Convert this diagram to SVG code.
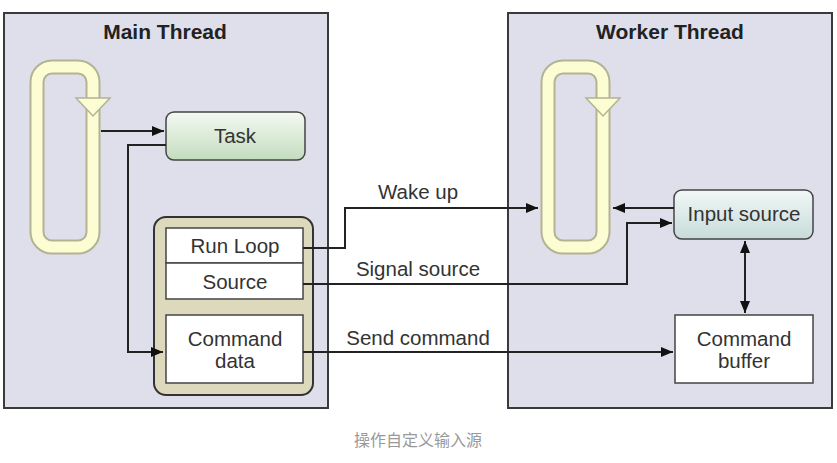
<svg xmlns="http://www.w3.org/2000/svg" width="837" height="463" viewBox="0 0 837 463">
<defs>
<style>
.thread{fill:#dfdfeb;stroke:#3a3a3a;stroke-width:2}
.title{font-family:"Liberation Sans",Arial,sans-serif;font-weight:bold;font-size:21px;fill:#222;text-anchor:middle}
.lbl{font-family:"Liberation Sans",Arial,sans-serif;font-size:20.5px;fill:#333;text-anchor:middle}
.box{fill:#fff;stroke:#444;stroke-width:1.5}
.tubeO{fill:none;stroke:#b3b394;stroke-width:15}
.tubeI{fill:none;stroke:#fdfdd4;stroke-width:11}
.head{fill:#fdfdd4;stroke:#b3b394;stroke-width:1.5}
.conn{fill:none;stroke:#222;stroke-width:2}
.cap{font-family:"Liberation Sans","Noto Sans CJK SC",sans-serif;font-size:16px;fill:#999;text-anchor:middle}
</style>
<linearGradient id="gGreen" x1="0" y1="0" x2="0" y2="1"><stop offset="0" stop-color="#f4f9f1"/><stop offset="1" stop-color="#c4dcbf"/></linearGradient>
<linearGradient id="gBlue" x1="0" y1="0" x2="0" y2="1"><stop offset="0" stop-color="#f2f7f6"/><stop offset="1" stop-color="#c6dcda"/></linearGradient>
<marker id="arr" viewBox="0 0 12 10" refX="12" refY="5" markerWidth="12" markerHeight="10" markerUnits="userSpaceOnUse" orient="auto-start-reverse"><path d="M0,0 L12,5 L0,10 Z" fill="#111"/></marker>
</defs>
<rect width="837" height="463" fill="#fff"/>

<g id="main-thread">
<rect class="thread" x="4" y="13" width="324" height="395"/>
<text class="title" x="165" y="39">Main Thread</text>
</g>
<g id="worker-thread">
<rect class="thread" x="508" y="13" width="324" height="395"/>
<text class="title" x="670" y="39">Worker Thread</text>
</g>

<g id="main-loop">
<rect class="tubeO" x="37" y="67" width="56" height="180" rx="15"/>
<rect class="tubeI" x="37" y="67" width="56" height="180" rx="15"/>
<path class="head" d="M76,98 L110,98 L93,116 Z"/>
</g>
<g id="worker-loop">
<rect class="tubeO" x="548" y="67" width="55" height="180" rx="15"/>
<rect class="tubeI" x="548" y="67" width="55" height="180" rx="15"/>
<path class="head" d="M586,98 L620,98 L603,116 Z"/>
</g>

<g id="task">
<rect x="166" y="112" width="139" height="48" rx="8" fill="url(#gGreen)" stroke="#444" stroke-width="1.5"/>
<text class="lbl" x="235" y="143">Task</text>
</g>

<g id="source-container">
<rect x="154" y="217" width="159" height="178" rx="12" fill="#ddd9bd" stroke="#333" stroke-width="2"/>
</g>
<g id="run-loop">
<rect class="box" x="166" y="228" width="137" height="35"/>
<text class="lbl" x="235" y="253">Run Loop</text>
</g>
<g id="source">
<rect class="box" x="166" y="263" width="137" height="36"/>
<text class="lbl" x="235" y="289">Source</text>
</g>
<g id="command-data">
<rect class="box" x="166" y="315" width="137" height="68"/>
<text class="lbl" x="235" y="346">Command</text>
<text class="lbl" x="235" y="368">data</text>
</g>

<g id="input-source">
<rect x="674" y="190" width="139" height="49" rx="8" fill="url(#gBlue)" stroke="#444" stroke-width="1.5"/>
<text class="lbl" x="744" y="221">Input source</text>
</g>
<g id="command-buffer">
<rect class="box" x="675" y="315" width="138" height="68"/>
<text class="lbl" x="744" y="346">Command</text>
<text class="lbl" x="744" y="368">buffer</text>
</g>

<g id="connectors">
<path class="conn" d="M101,131 L164,131" marker-end="url(#arr)"/>
<path class="conn" d="M166,145 L128,145 L128,352 L163,352" marker-end="url(#arr)"/>
<path class="conn" d="M303,248 L345,248 L345,208 L538,208" marker-end="url(#arr)"/>
<path class="conn" d="M303,284 L627,284 L627,223 L672,223" marker-end="url(#arr)"/>
<path class="conn" d="M303,352 L673,352" marker-end="url(#arr)"/>
<path class="conn" d="M674,208 L613,208" marker-end="url(#arr)"/>
<path class="conn" d="M745,241 L745,313" marker-start="url(#arr)" marker-end="url(#arr)"/>
<text class="lbl" x="418" y="199">Wake up</text>
<text class="lbl" x="418" y="276">Signal source</text>
<text class="lbl" x="418" y="345">Send command</text>
</g>

<text class="cap" x="418" y="446">操作自定义输入源</text>
</svg>
